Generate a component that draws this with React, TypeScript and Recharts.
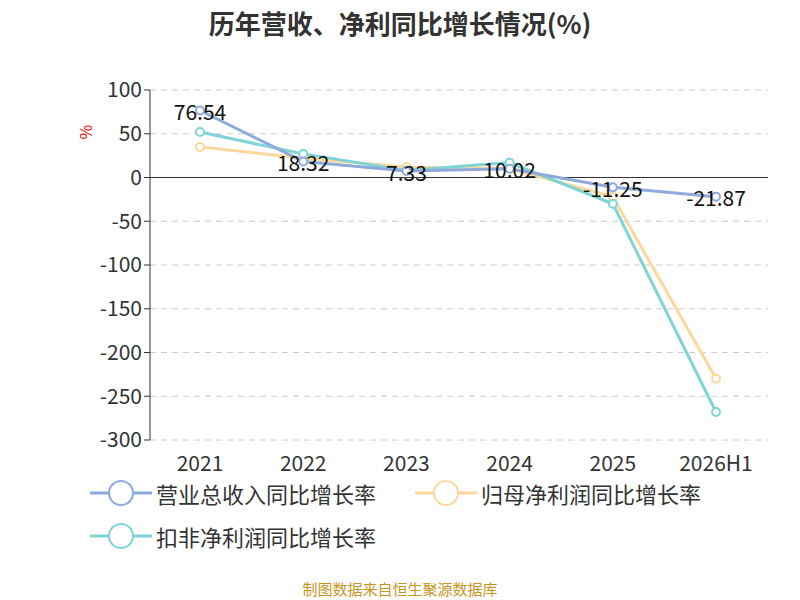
import React from "react";
import { LineChart, Line, XAxis, YAxis, CartesianGrid, ReferenceLine, LabelList } from "recharts";

const categories = ["2021", "2022", "2023", "2024", "2025", "2026H1"];
const revenue = [76.54, 18.32, 7.33, 10.02, -11.25, -21.87];
const netProfit = [35, 22, 12, 10, -22, -230];
const deductedProfit = [52, 27, 8, 17, -30, -268];
const yTicks = [100, 50, 0, -50, -100, -150, -200, -250, -300];

const data = categories.map((c, i) => ({ name: c, a: revenue[i], b: netProfit[i], c: deductedProfit[i] }));

const colors = { a: "#8eaadc", b: "#fdd89b", c: "#7fd4d6" };
const font = "'Noto Sans CJK SC', 'Noto Sans', sans-serif";

const LegendItem = ({ color, label, x, y }: { color: string; label: string; x: number; y: number }) => (
  <div style={{ position: "absolute", left: x, top: y, display: "flex", alignItems: "center", fontSize: 22, color: "#333", fontFamily: font }}>
    <svg width={62} height={30}>
      <line x1={0} y1={15} x2={62} y2={15} stroke={color} strokeWidth={3} />
      <circle cx={31} cy={15} r={12} fill="#fff" stroke={color} strokeWidth={2} />
    </svg>
    <span style={{ marginLeft: 4 }}>{label}</span>
  </div>
);

const Lbl = (props: any) => {
  const { x, y, value } = props;
  return (
    <text x={x} y={y} dy={4} textAnchor="middle" dominantBaseline="middle" fontSize={21} fill="#111">
      {value}
    </text>
  );
};

export default function App() {
  return (
    <div style={{ position: "absolute", left: 0, top: 0, width: 800, height: 600, background: "#fff", fontFamily: font }}>
      <div style={{ position: "absolute", top: 4, width: 800, textAlign: "center", fontSize: 26, fontWeight: "bold", color: "#333" }}>
        历年营收、净利同比增长情况(%)
      </div>
      <div style={{ position: "absolute", left: 78, top: 120, color: "#e00", fontSize: 16, transform: "rotate(-90deg)" }}>%</div>
      <LineChart width={800} height={600} data={data} margin={{ top: 90, left: 90, right: 32, bottom: 130 }}>
        <CartesianGrid vertical={false} stroke="#ccc" strokeDasharray="6 5" />
        <XAxis dataKey="name" axisLine={false} tickLine={false} height={30} padding={{ left: 50, right: 52 }} tick={{ fontSize: 21, fill: "#333" }} tickMargin={10} />
        <YAxis domain={[-300, 100]} ticks={yTicks} width={60} interval={0} tick={{ fontSize: 21, fill: "#333" }} axisLine={{ stroke: "#333" }} tickLine={{ stroke: "#333" }} />
        <ReferenceLine y={0} stroke="#333" />
        <Line dataKey="b" stroke={colors.b} strokeWidth={3} dot={{ r: 4, fill: "#fff", strokeWidth: 2 }} isAnimationActive={false} />
        <Line dataKey="c" stroke={colors.c} strokeWidth={3} dot={{ r: 4, fill: "#fff", strokeWidth: 2 }} isAnimationActive={false} />
        <Line dataKey="a" stroke={colors.a} strokeWidth={3} dot={{ r: 4, fill: "#fff", strokeWidth: 2 }} isAnimationActive={false}>
          <LabelList dataKey="a" content={<Lbl />} />
        </Line>
      </LineChart>
      <LegendItem color={colors.a} label="营业总收入同比增长率" x={90} y={477} />
      <LegendItem color={colors.b} label="归母净利润同比增长率" x={415} y={477} />
      <LegendItem color={colors.c} label="扣非净利润同比增长率" x={90} y={520} />
      <div style={{ position: "absolute", top: 578, width: 800, textAlign: "center", fontSize: 15, color: "#c8961e" }}>制图数据来自恒生聚源数据库</div>
    </div>
  );
}
